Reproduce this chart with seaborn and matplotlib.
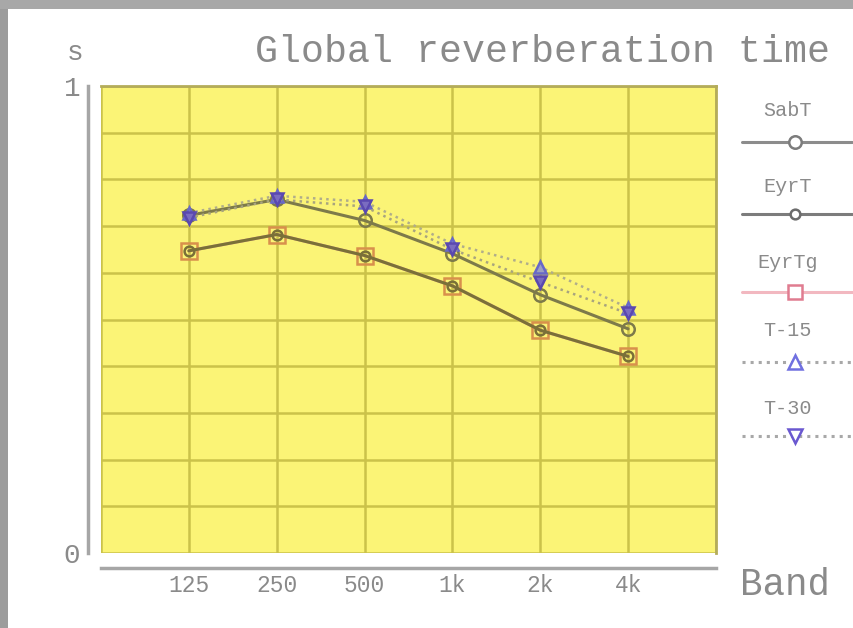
import matplotlib
matplotlib.use("Agg")
import matplotlib.pyplot as plt
from matplotlib.lines import Line2D
from matplotlib.patches import Rectangle
import numpy as np
import pandas as pd
import seaborn as sns

# Octave bands and reverberation times (s)
bands = ["125", "250", "500", "1k", "2k", "4k"]
sabt = [0.723, 0.757, 0.712, 0.641, 0.553, 0.480]
eyrt = [0.647, 0.682, 0.637, 0.572, 0.477, 0.421]
eyrtg = [0.647, 0.682, 0.637, 0.572, 0.477, 0.421]
t15 = [0.728, 0.765, 0.752, 0.662, 0.612, 0.525]
t30 = [0.718, 0.757, 0.742, 0.650, 0.580, 0.513]

series_names = ["SabT", "EyrT", "EyrTg", "T-15", "T-30"]
series_values = [sabt, eyrt, eyrtg, t15, t30]

rows = []
for name, vals in zip(series_names, series_values):
    for i, (b, v) in enumerate(zip(bands, vals)):
        rows.append({"series": name, "pos": i + 1, "band": b, "rt": v})
df = pd.DataFrame(rows)

sns.set_theme(style="white")
plt.rcParams["font.family"] = ["Liberation Mono", "DejaVu Sans Mono"]

TXT = "#8a8a8a"
W, H = 854, 628
fig = plt.figure(figsize=(W / 100, H / 100), dpi=100, facecolor="white")

# window frame
fig.patches.append(Rectangle((0, 0), 8 / W, 1, transform=fig.transFigure,
                             facecolor="#9c9c9c", edgecolor="none", zorder=0))
fig.patches.append(Rectangle((0, 1 - 9 / H), 1, 9 / H, transform=fig.transFigure,
                             facecolor="#a8a8a8", edgecolor="none", zorder=0))

left, right, top, bottom = 101, 716, 86, 553
ax = fig.add_axes([left / W, 1 - bottom / H, (right - left) / W, (bottom - top) / H])
ax.set_facecolor("#fbf476")

styles = {
    "SabT": dict(color="#7d7a4a", ls="-", lw=2.2, marker="o", ms=9, mfc="none", mec="#7d7a4a", z=4),
    "EyrTg": dict(color="#e8a090", ls="-", lw=2.2, marker="s", ms=11, mfc="none", mec="#d8904c", z=3),
    "EyrT": dict(color="#7a7038", ls="-", lw=2.2, marker="o", ms=7, mfc="none", mec="#7a7038", z=5),
    "T-15": dict(color="#b0ad8a", ls=":", lw=1.8, marker="^", ms=8, mfc="#9da0c0", mec="#6868c8", z=6),
    "T-30": dict(color="#a8a47e", ls=":", lw=1.8, marker="v", ms=8, mfc="#7a6cc0", mec="#5a48b0", z=7),
}

for name in ["EyrTg", "EyrT", "SabT", "T-15", "T-30"]:
    st = styles[name]
    sub = df[df["series"] == name]
    sns.lineplot(data=sub, x="pos", y="rt", ax=ax, color=st["color"], linestyle=st["ls"],
                 linewidth=st["lw"], marker=st["marker"], markersize=st["ms"],
                 markerfacecolor=st["mfc"], markeredgecolor=st["mec"], markeredgewidth=1.8,
                 zorder=st["z"], legend=False)

ax.set_xlim(0, 7)
ax.set_ylim(0, 1)
ax.xaxis.remove_overlapping_locs = False
ax.yaxis.remove_overlapping_locs = False
ax.set_xticks(range(0, 8))
ax.set_xticklabels([""] * 8)
ax.set_yticks(np.linspace(0, 1, 11))
ax.set_yticklabels([""] * 11)
ax.grid(True, which="major", color="#cbc24a", linewidth=1.8, zorder=0)
ax.set_axisbelow(True)

# tick labels only at the bands / axis ends
ax.set_xticks(range(1, 7), labels=bands, minor=True)
ax.set_yticks([0, 1], labels=["0", "1"], minor=True)
ax.tick_params(axis="both", which="both", length=0)
ax.tick_params(axis="x", which="minor", labelsize=16.5, labelcolor=TXT, pad=4)
ax.tick_params(axis="y", which="minor", labelsize=20, labelcolor=TXT, pad=6)
ax.set_xlabel("")
ax.set_ylabel("")

for s in ["top", "right"]:
    ax.spines[s].set_color("#b4ac5a")
    ax.spines[s].set_linewidth(2)
ax.spines["left"].set_position(("outward", 9))
ax.spines["left"].set_color("#a6a6a6")
ax.spines["left"].set_linewidth(2.5)
ax.spines["bottom"].set_position(("outward", 11))
ax.spines["bottom"].set_color("#a6a6a6")
ax.spines["bottom"].set_linewidth(2.5)

fig.text(830 / W, 1 - 52 / H, "Global reverberation time", ha="right", va="center",
         fontsize=27.5, color=TXT)
fig.text(75 / W, 1 - 53 / H, "s", ha="center", va="center", fontsize=20, color=TXT)
fig.text(785 / W, 1 - 585 / H, "Band", ha="center", va="center", fontsize=27, color=TXT)

# legend column
lax = fig.add_axes([738 / W, 0, (854 - 738) / W, 1])
lax.set_xlim(738, 854)
lax.set_ylim(H, 0)
lax.axis("off")
legend_rows = [
    ("SabT", 110, 142, dict(color="#8c8c8c", ls="-", marker="o", ms=9, mfc="white", mec="#7c7c7c")),
    ("EyrT", 187, 214, dict(color="#7c7c7c", ls="-", marker="o", ms=7, mfc="white", mec="#6c6c6c")),
    ("EyrTg", 262, 292, dict(color="#f2b8c0", ls="-", marker="s", ms=10, mfc="white", mec="#e07c90")),
    ("T-15", 330, 362, dict(color="#a8a8a8", ls=":", marker="^", ms=10, mfc="white", mec="#7070e0")),
    ("T-30", 408, 436, dict(color="#a8a8a8", ls=":", marker="v", ms=10, mfc="white", mec="#6a58d0")),
]
for label, ty, ly, st in legend_rows:
    lax.text(788, ty, label, ha="center", va="center", fontsize=14.5, color=TXT)
    lax.add_line(Line2D([742, 852], [ly, ly], color=st["color"], linestyle=st["ls"], linewidth=2.2))
    lax.add_line(Line2D([795], [ly], linestyle="none", marker=st["marker"], markersize=st["ms"],
                        markerfacecolor=st["mfc"], markeredgecolor=st["mec"], markeredgewidth=1.8))

fig.savefig("out.png", dpi=100, facecolor="white")
